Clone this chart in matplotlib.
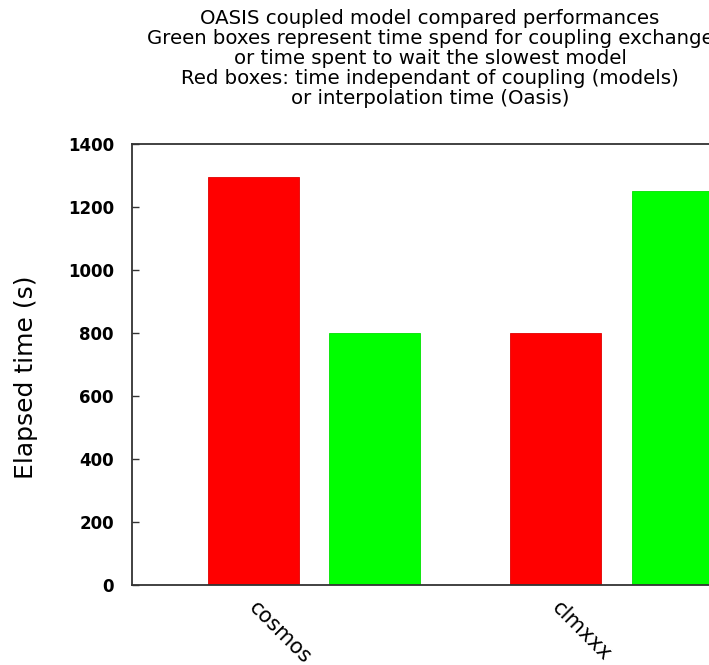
import numpy as np
import matplotlib
matplotlib.use('Agg')
import matplotlib.pyplot as plt

# temps mesures (s)
modeles = ['cosmos', 'clmxxx']
temps_rouge = [1295, 800]   # temps independant du couplage
temps_vert = [800, 1252]    # temps d'echange / attente

titre = ('OASIS coupled model compared performances\n'
         'Green boxes represent time spend for coupling exchange\n'
         'or time spent to wait the slowest model\n'
         'Red boxes: time independant of coupling (models)\n'
         'or interpolation time (Oasis)')

plt.rcParams['font.family'] = 'DejaVu Sans'

fig = plt.figure(figsize=(7.09, 6.65), dpi=100)
ax = fig.add_axes([0.1862, 0.1203, 0.854, 0.6632])

x = np.arange(len(modeles))
ax.bar(x, temps_rouge, width=0.3, color='#ff0000', edgecolor='#e00000', linewidth=0.6)
ax.bar(x + 0.4, temps_vert, width=0.3, color='#00ff00', edgecolor='#00e000', linewidth=0.6)

ax.set_xlim(-0.4, 1.6)
ax.set_ylim(0, 1400)
ax.set_yticks(np.arange(0, 1401, 200))
ax.set_xticks(x + 0.02)
ax.set_xticklabels(modeles, rotation=-45, ha='left', va='top',
                   rotation_mode='anchor', fontsize=15)
for lab in ax.get_yticklabels():
    lab.set_fontweight('bold')
    lab.set_fontsize(12)

ax.tick_params(axis='y', direction='in', length=5, width=1, pad=13, color='#333333')
ax.tick_params(axis='x', length=0, pad=9)
for s in ['left', 'top', 'bottom', 'right']:
    ax.spines[s].set_linewidth(1.3)
    ax.spines[s].set_color('#333333')

ax.set_ylabel('Elapsed time (s)', fontsize=18)
ax.yaxis.set_label_coords(-0.155, 0.47)

fig.text(0.6065, 0.987, titre, ha='center', va='top', fontsize=14.2,
         linespacing=1.07, multialignment='center')

plt.savefig('out.png', dpi=100)
